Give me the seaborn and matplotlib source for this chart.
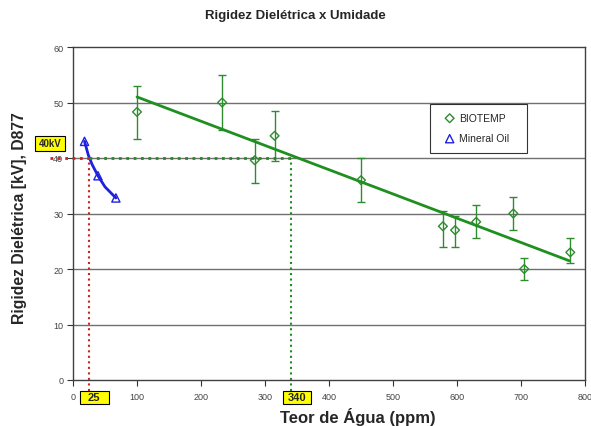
import matplotlib
matplotlib.use("Agg")
import matplotlib.pyplot as plt
from matplotlib.patches import Rectangle
import seaborn as sns
import pandas as pd

# data
bio_x = [100, 233, 284, 315, 450, 578, 597, 630, 688, 705, 777]
bio_y = [48.3, 50.0, 39.6, 44.0, 36.0, 27.7, 27.0, 28.5, 30.0, 20.0, 23.0]
bio_lo = [43.5, 45.0, 35.5, 39.5, 32.0, 24.0, 24.0, 25.5, 27.0, 18.0, 21.0]
bio_hi = [53.0, 55.0, 43.5, 48.5, 40.0, 30.5, 29.5, 31.5, 33.0, 22.0, 25.5]
trend_x = [100, 775]
trend_y = [51.0, 21.5]
oil_curve_x = [18, 24, 30, 39, 50, 67]
oil_curve_y = [43.0, 40.5, 38.8, 36.8, 34.8, 32.8]
oil_x = [18, 39, 67]
oil_y = [43.0, 36.8, 32.8]
ref_water_oil = 25
ref_water_bio = 340
ref_kv = 40
x_ticks = [0, 100, 200, 300, 400, 500, 600, 700, 800]
y_ticks = [0, 10, 20, 30, 40, 50, 60]

sns.set_style("white")
plt.rcParams['font.family'] = ['Liberation Sans', 'DejaVu Sans']

W, H = 591, 427
fig = plt.figure(figsize=(W / 100, H / 100), dpi=100)
ax = fig.add_axes([73 / W, 1 - 381 / H, 512 / W, 333 / H])

for yv in y_ticks[1:-1]:
    ax.axhline(yv, color='#707070', lw=1, zorder=0)

green = '#2e8b2e'
blue = '#2020e0'

yerr = [[y - l for y, l in zip(bio_y, bio_lo)], [h - y for y, h in zip(bio_y, bio_hi)]]
ax.errorbar(bio_x, bio_y, yerr=yerr, fmt='none', ecolor=green, elinewidth=1, capsize=3, zorder=3)
sns.lineplot(x=trend_x, y=trend_y, ax=ax, color='#1f8f1f', lw=2, zorder=4)
sns.scatterplot(x=bio_x, y=bio_y, ax=ax, marker='D', s=20, facecolor='none',
                edgecolor=green, linewidth=1, zorder=5, label='BIOTEMP')

sns.lineplot(x=oil_curve_x, y=oil_curve_y, ax=ax, color=blue, lw=2, zorder=4)
sns.scatterplot(x=oil_x, y=oil_y, ax=ax, marker='^', s=35, facecolor='none',
                edgecolor=blue, linewidth=1, zorder=5, label='Mineral Oil')

# reference dotted lines
ax.plot([-36, ref_water_oil], [ref_kv, ref_kv], color='#cc2222', ls=':', lw=2, clip_on=False, zorder=6)
ax.plot([ref_water_oil, ref_water_oil], [-1.9, ref_kv], color='#cc2222', ls=':', lw=1.5, clip_on=False, zorder=6)
ax.plot([ref_water_oil, ref_water_bio], [ref_kv, ref_kv], color='#228b22', ls=':', lw=2, zorder=6)
ax.plot([ref_water_bio, ref_water_bio], [-1.9, ref_kv], color='#228b22', ls=':', lw=1.5, clip_on=False, zorder=6)

# yellow label boxes
def label_box(x0, x1, y0, y1, txt, fs):
    ax.add_patch(Rectangle((x0, y0), x1 - x0, y1 - y0, fc='#ffff00', ec='black', lw=0.8,
                           clip_on=False, zorder=7))
    ax.text((x0 + x1) / 2, (y0 + y1) / 2, txt, ha='center', va='center', fontsize=fs,
            fontweight='bold', zorder=8)

label_box(-59, -12, 41.3, 44.0, '40kV', 7)
label_box(10.5, 55.5, -4.3, -1.9, '25', 8)
label_box(327.5, 372.5, -4.3, -1.9, '340', 8)

ax.set_xlim(0, 800)
ax.set_ylim(0, 60)
ax.set_xticks(x_ticks)
ax.set_yticks(y_ticks)
ax.tick_params(axis='both', labelsize=6.5, colors='#333333', labelcolor='#444444',
               length=4.5, direction='out')
ax.tick_params(axis='y', pad=2.5)
ax.tick_params(axis='x', pad=4)
ax.tick_params(axis='both', bottom=True, left=True)
for s in ax.spines.values():
    s.set_color('#404040')
    s.set_linewidth(1)

fig.text(295 / W, 1 - 16 / H, 'Rigidez Dielétrica x Umidade', fontsize=9.5, fontweight='bold',
         ha='center', va='center')
fig.text(358 / W, 1 - 417 / H, 'Teor de Água (ppm)', fontsize=12, fontweight='bold',
         ha='center', va='center')
fig.text(20 / W, 1 - 218 / H, 'Rigidez Dielétrica [kV], D877', fontsize=11.3, fontweight='bold',
         rotation=90, ha='center', va='center')

leg_w = 97 / 512
leg_h = 46 / 333
leg = ax.legend(loc='upper left', bbox_to_anchor=(0.697, 0.83 - leg_h, leg_w, leg_h),
                mode='expand', fontsize=7.5, frameon=True,
                fancybox=False, edgecolor='black', handletextpad=-0.1, borderpad=0.9,
                labelspacing=1.0, handlelength=2.0, borderaxespad=0)
leg.get_frame().set_linewidth(0.8)

fig.savefig('out.png', dpi=100)
